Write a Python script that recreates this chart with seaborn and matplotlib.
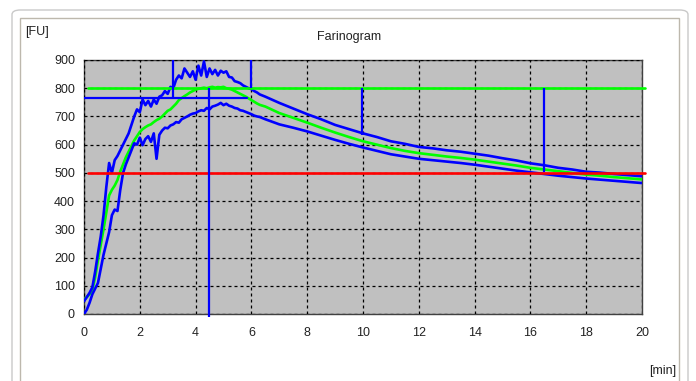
import numpy as np
import pandas as pd
import matplotlib
matplotlib.use("Agg")
import matplotlib.pyplot as plt
import seaborn as sns
from matplotlib.patches import FancyBboxPatch, Rectangle

# ---------------- data ----------------
time_fine = [round(0.1 * i, 1) for i in range(66)]
time_coarse = [7.0, 7.5, 8.0, 8.5, 9.0, 9.5, 10.0, 10.5, 11.0, 11.5, 12.0, 12.5, 13.0,
               13.5, 14.0, 14.5, 15.0, 15.5, 16.0, 16.5, 17.0, 17.5, 18.0, 18.5, 19.0,
               19.5, 20.0]
time_min = time_fine + time_coarse

upper_fu = [45, 60, 75, 95, 150, 215, 275, 350, 450, 535,
            500, 545, 560, 580, 600, 620, 640, 670, 700, 725,
            715, 760, 740, 755, 735, 760, 745, 770, 775, 790,
            780, 805, 800, 830, 845, 835, 870, 855, 840, 860,
            830, 880, 845, 895, 840, 870, 850, 865, 845, 862,
            855, 860, 840, 838, 825, 822, 818, 810, 805, 800,
            797, 790, 785, 778, 774, 770,
            748, 728, 708, 690, 670, 655, 640, 627, 612, 603, 592, 587, 580,
            575, 568, 561, 552, 544, 534, 527, 518, 512, 504, 501, 496, 492, 488]

mean_fu = [50, 60, 70, 85, 130, 190, 245, 300, 360, 420,
           440, 455, 475, 505, 530, 555, 575, 595, 615, 630,
           645, 655, 662, 668, 672, 680, 687, 692, 700, 710,
           720, 725, 735, 745, 758, 765, 772, 778, 785, 790,
           795, 798, 800, 802, 800, 803, 805, 802, 804, 803,
           805, 800, 798, 795, 790, 785, 780, 775, 770, 764,
           758, 752, 746, 741, 738, 735,
           712, 695, 678, 660, 643, 627, 612, 600, 588, 578, 570, 564, 558,
           553, 547, 540, 533, 526, 518, 512, 506, 500, 494, 490, 485, 481, 477]

lower_fu = [0, 15, 40, 70, 90, 110, 160, 210, 250, 290,
            350, 370, 365, 440, 500, 530, 555, 580, 605, 600,
            625, 598, 620, 630, 610, 640, 550, 635, 650, 660,
            658, 668, 672, 680, 678, 690, 695, 700, 706, 710,
            712, 718, 722, 720, 730, 725, 735, 738, 742, 748,
            740, 745, 738, 735, 730, 728, 722, 720, 716, 712,
            708, 703, 700, 698, 694, 690,
            672, 660, 647, 632, 617, 603, 590, 578, 566, 558, 550, 545, 540,
            535, 529, 522, 515, 508, 502, 496, 490, 485, 480, 476, 472, 468, 464]

# reference levels
consistency_line = 500
upper_band = 800
band_x = [0.15, 20.1]

# markers (time, y from, y to)
mark_time = [3.18, 4.49, 5.98, 9.95, 16.5]
mark_from = [765, -12, 800, 634, 504]
mark_to = [900, 800, 900, 800, 800]
arrival_level = 765
arrival_x = [0.0, 5.83]

x_ticks = [0, 2, 4, 6, 8, 10, 12, 14, 16, 18, 20]
y_ticks = [0, 100, 200, 300, 400, 500, 600, 700, 800, 900]

# ---------------- plot ----------------
sns.set_style("white")
plt.rcParams['font.family'] = ['Liberation Sans', 'DejaVu Sans']

fig = plt.figure(figsize=(6.96, 3.81), dpi=100)
W, H = 696, 381

# frames
outer = FancyBboxPatch((12 / W, -0.05), (688 - 12) / W, (381 - 10) / H + 0.05,
                       boxstyle="round,pad=0,rounding_size=0.012",
                       transform=fig.transFigure, fill=False, edgecolor="#c9c9c9", lw=1.0)
fig.patches.append(outer)
inner = Rectangle((20 / W, -0.05), (679 - 20) / W, (381 - 18) / H + 0.05,
                  transform=fig.transFigure, fill=False, edgecolor="#bdb8ad", lw=1.0)
fig.patches.append(inner)

ax = fig.add_axes([84 / W, 1 - 314 / H, (642 - 84) / W, (314 - 60) / H])
ax.set_facecolor("#c0c0c0")

df = pd.concat([
    pd.DataFrame({"time": time_min, "FU": mean_fu, "curve": "mean"}),
    pd.DataFrame({"time": time_min, "FU": upper_fu, "curve": "upper"}),
    pd.DataFrame({"time": time_min, "FU": lower_fu, "curve": "lower"}),
])
sns.lineplot(data=df, x="time", y="FU", hue="curve", estimator=None, sort=False,
             palette={"upper": "#0000ff", "lower": "#0000ff", "mean": "#00ff00"},
             linewidth=1.9, legend=False, ax=ax, zorder=3)

ax.plot(band_x, [consistency_line] * 2, color="#ff0000", lw=1.9, zorder=4, clip_on=False)
ax.plot(band_x, [upper_band] * 2, color="#00ff00", lw=1.9, zorder=4, clip_on=False)
ax.plot(arrival_x, [arrival_level] * 2, color="#0000ff", lw=1.6, zorder=5)
ax.vlines(mark_time, mark_from, mark_to, colors="#0000ff", lw=1.6, zorder=5, clip_on=False)

ax.set_xlim(0, 20)
ax.set_ylim(0, 900)
ax.set_xticks(x_ticks)
ax.set_yticks(y_ticks)
ax.set_xticklabels([str(v) for v in x_ticks])
ax.set_yticklabels([str(v) for v in y_ticks])
ax.grid(True, color="black", linestyle=(0, (2.4, 2.4)), lw=0.9)
ax.set_axisbelow(False)
for l in ax.get_xgridlines() + ax.get_ygridlines():
    l.set_zorder(2)
ax.tick_params(axis="both", direction="out", length=3.5, width=0.9, color="#333333",
               labelsize=9, labelcolor="#222222")
ax.tick_params(axis="x", pad=6)
ax.tick_params(axis="y", pad=3)
ax.set_xlabel("")
ax.set_ylabel("")
for s in ax.spines.values():
    s.set_color("#404040")
    s.set_linewidth(1.0)

fig.text(349 / W, 1 - 37 / H, "Farinogram", ha="center", va="center", fontsize=9, color="#222222")
fig.text(25 / W, 1 - 32 / H, "[FU]", ha="left", va="center", fontsize=9, color="#222222")
fig.text(676 / W, 1 - 371 / H, "[min]", ha="right", va="center", fontsize=9, color="#222222")

fig.savefig("out.png", dpi=100)
